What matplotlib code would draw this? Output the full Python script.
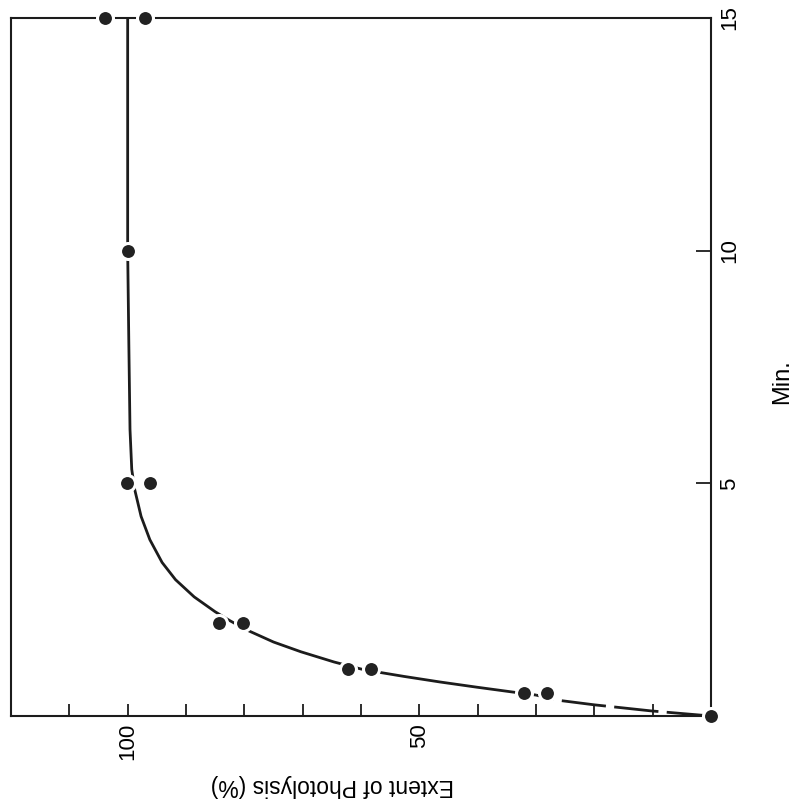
import matplotlib
matplotlib.use('Agg')
import matplotlib.pyplot as plt

plt.rcParams['font.family'] = ['Liberation Sans', 'DejaVu Sans']

# measured points (time in min, extent of photolysis in %)
point_min = [0, 0.5, 0.5, 1, 1, 2, 2, 5, 5, 10, 15, 15]
point_pct = [0, 32.1, 28.2, 62.2, 58.3, 84.3, 80.2, 100.2, 96.1, 100, 103.9, 97.1]

# drawn curve
curve_dash_min = [0, 0.11, 0.24, 0.34, 0.45]
curve_dash_pct = [0, 10.3, 20.0, 26.3, 30.0]
curve_min = [0.45, 0.52, 0.62, 0.73, 0.85, 0.95, 1.01, 1.16, 1.38, 1.59, 1.85, 2.05, 2.24,
             2.56, 2.93, 3.3, 3.79, 4.29, 4.87, 5.3, 6.16, 8, 10, 12, 15]
curve_pct = [30.0, 34.3, 40.2, 46.4, 52.6, 57.4, 60.0, 64.6, 70.3, 75.0, 79.6, 82.5, 85.0,
             88.6, 91.8, 94.1, 96.2, 97.7, 98.8, 99.3, 99.6, 99.8, 100, 100, 100]

pct_ticks = [10, 20, 30, 40, 50, 60, 70, 80, 90, 100, 110]
pct_labels = ['', '', '', '', '50', '', '', '', '', '100', '']
min_ticks = [5, 10, 15]
min_labels = ['5', '10', '15']

fig = plt.figure(figsize=(8.01, 8.07), dpi=100)
ax = fig.add_axes([11/801, 1 - 716/807, (711-11)/801, (716-18)/807])

ink = '#1c1c1c'
ax.plot(curve_pct, curve_min, color=ink, lw=2, solid_capstyle='butt', solid_joinstyle='round', zorder=2)
ax.plot(curve_dash_pct, curve_dash_min, color=ink, lw=2, dashes=(16, 3), zorder=2)
ax.plot(point_pct, point_min, linestyle='none', marker='o', markersize=11.5,
        markerfacecolor='#222222', markeredgecolor='white', markeredgewidth=2.2,
        zorder=3, clip_on=False)

ax.set_xlim(120, 0)
ax.set_ylim(0, 15)

for s in ax.spines.values():
    s.set_linewidth(1.5)
    s.set_color(ink)

ax.set_xticks(pct_ticks)
ax.set_xticklabels(pct_labels, rotation=90, fontsize=16)
ax.yaxis.tick_right()
ax.set_yticks(min_ticks)
ax.set_yticklabels(min_labels, rotation=90, fontsize=16, va='center')
ax.tick_params(axis='x', direction='in', length=9, width=1.3, color=ink, pad=5)
ax.tick_params(axis='y', direction='in', length=11, width=1.3, color=ink, pad=6)
ax.yaxis.get_major_ticks()[-1].tick2line.set_visible(False)

fig.text(332/801, 1 - 785/807, 'Extent of Photolysis (%)', rotation=180,
         ha='center', va='center', fontsize=16.5)
fig.text(782/801, 1 - 382/807, 'Min.', rotation=90, ha='center', va='center', fontsize=17)

plt.savefig('out.png', dpi=100)
